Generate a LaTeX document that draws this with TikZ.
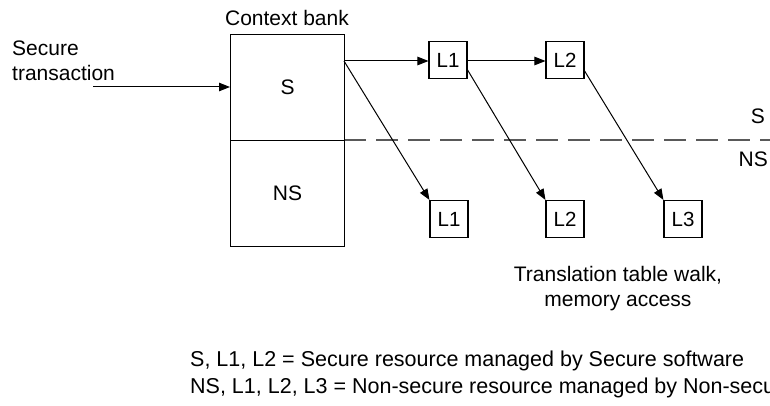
\documentclass[tikz,border=0pt]{standalone}
\usepackage{fontspec}
\setmainfont{Liberation Sans}
\usetikzlibrary{arrows.meta}
\begin{document}
\begin{tikzpicture}[x=1pt,y=-1pt,
  lbl/.style={font=\fontsize{21}{25}\selectfont, inner sep=0pt},
  key/.style={font=\fontsize{21.5}{26}\selectfont, inner sep=0pt, anchor=base west},
  half/.style={draw, line width=1.1pt, minimum width=114pt, minimum height=106pt, inner sep=0pt, anchor=north west},
  tbl/.style={draw, fill=white, line width=1.1pt, minimum width=38pt, minimum height=37pt, inner sep=0pt, font=\fontsize{20.5}{24}\selectfont},
  link/.style={line width=1pt, -{Triangle[length=11pt,width=8.5pt]}}]
\useasboundingbox (0,0) rectangle (770,406);

% boundary between the Secure and Non-secure worlds
\draw[black!65, line width=2pt, dash pattern=on 21.5pt off 10.5pt] (344,140) -- (775,140);

% context bank split into Secure and Non-secure halves
\node[half] (bs) at (230,34) {};
\node[half] (bn) at (230,140) {};
\node[lbl] at (bs.center) {S};
\node[lbl] at (bn.center) {NS};
\node[lbl, anchor=base] (cb) at (287,26) {Context bank};

% incoming transaction
\node[lbl, anchor=base west] (st1) at (12,56) {Secure};
\node[lbl, anchor=base west] (st2) at (12,81) {transaction};
\coordinate (tx) at (93,87);
\draw[link] (tx) -- (bs.west |- tx);

% translation tables
\node[tbl] (s1) at (448,60) {L1};
\node[tbl] (s2) at (565,60) {L2};
\node[tbl] (n1) at (449,219) {L1};
\node[tbl] (n2) at (565,219) {L2};
\node[tbl] (n3) at (683,219) {L3};

\coordinate (o) at (344,61);
\draw[link] (o) -- (s1.west |- o);
\draw[link] (s1.east |- o) -- (s2.west |- o);
\draw[link] (o) -- (n1.north west);
\draw[link] (467,69) -- (n2.north west);
\draw[link] (584,70) -- (n3.north west);

% world labels
\node[lbl, anchor=base east] (ls) at (765,124) {S};
\node[lbl, anchor=base east] (lns) at (768,167) {NS};

\node[lbl, anchor=base] (tw1) at (618,281) {Translation table walk,};
\node[lbl, anchor=base] (tw2) at (618,306) {memory access};

% key
\node[key] (k1) at (190,366) {S, L1, L2 = Secure resource managed by Secure software};
\node[key] (k2) at (190,393) {NS, L1, L2, L3 = Non-secure resource managed by Non-secure software};
\end{tikzpicture}
\end{document}
